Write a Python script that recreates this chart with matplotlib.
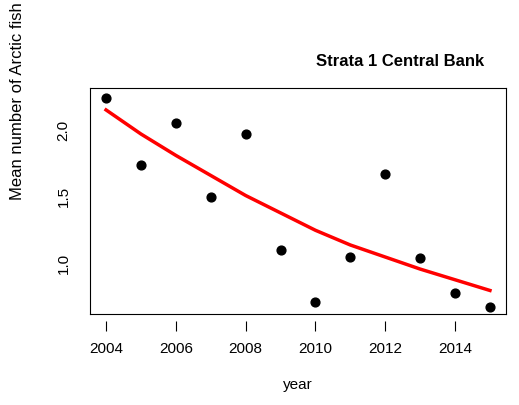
import matplotlib.pyplot as plt

plt.rcParams['font.family'] = ['Liberation Sans', 'DejaVu Sans']

years = [2004, 2005, 2006, 2007, 2008, 2009, 2010, 2011, 2012, 2013, 2014, 2015]
mean_fish = [2.24, 1.74, 2.05, 1.50, 1.97, 1.10, 0.71, 1.05, 1.67, 1.04, 0.78, 0.68]
fit = [2.15, 1.97, 1.81, 1.66, 1.51, 1.38, 1.25, 1.14, 1.05, 0.96, 0.88, 0.80]

W, H = 519, 405
fig = plt.figure(figsize=(W / 100, H / 100), dpi=100)
ax = fig.add_axes([90 / W, 1 - 314 / H, 416 / W, 226 / H])

ax.plot(years, fit, color='red', lw=2.5, zorder=2)
ax.scatter(years, mean_fish, s=40, color='black', zorder=3)

ax.set_xlim(2003.54, 2015.46)
ax.set_ylim(0.624, 2.314)
ax.set_xticks([2004, 2006, 2008, 2010, 2012, 2014])
ax.set_yticks([1.0, 1.5, 2.0])
ax.set_yticklabels(['1.0', '1.5', '2.0'], rotation=90, va='center')
ax.tick_params(axis='x', length=7, pad=8, labelsize=11, direction='out')
ax.tick_params(axis='y', length=0, pad=14, labelsize=11)
for s in ax.spines.values():
    s.set_linewidth(0.8)
# R-style detached x axis, box drawn separately
ax.spines['bottom'].set_position(('outward', 5))
ax.spines['bottom'].set_bounds(2004, 2014)
ax.spines['bottom'].set_visible(False)
ax.plot([2003.54, 2015.46], [0.624, 0.624], color='black', lw=0.8, clip_on=False)

fig.text(400 / W, 1 - 62 / H, 'Strata 1 Central Bank', ha='center', va='center',
         fontsize=12, fontweight='bold')
fig.text(298 / W, 1 - 385 / H, 'year', ha='center', va='center', fontsize=11)
fig.text(18 / W, 1 - 200 / H, 'Mean number of Arctic fish', rotation=90,
         ha='center', va='bottom', fontsize=12)

fig.savefig('out.png', dpi=100)
